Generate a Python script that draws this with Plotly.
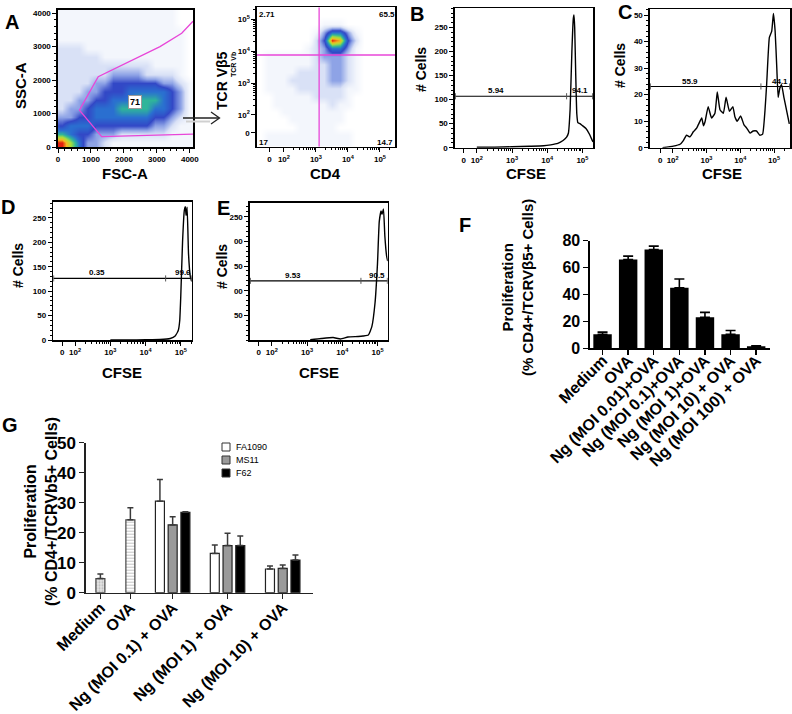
import math
import plotly.graph_objects as go

W, H = 792, 714
FONT = "Liberation Sans"
MAGENTA = "#e846d8"

# ---------------- DATA ----------------
# Panel A (left): FSC-A vs SSC-A dot density levels (0 empty .. 9 densest), rows top -> bottom,
# 16 bins of 256 channels on each axis
A1_DENSITY = [
    "1111111111111100",
    "1111111111111100",
    "1111111111111110",
    "1111111111111110",
    "2221111111111110",
    "2222211111111110",
    "2222222222211110",
    "2222223333222210",
    "2222334444443321",
    "2223344455555431",
    "2233445556665431",
    "2334555666655431",
    "3344555555544321",
    "4555444444433211",
    "6544333222222111",
    "9753321111111111",
]
A1_GATE_X = [4096, 3753, 3095, 1220, 650, 1325, 4096]
A1_GATE_Y = [3760, 3400, 3000, 2100, 1100, 308, 385]
A1_GATE_PCT = "71"

# Panel A (right): CD4 vs TCR Vb5 density levels (log decades), rows top -> bottom
A2_DENSITY = [
    "000000000000000000",
    "000000000000000000",
    "000000001110000000",
    "000000013553100000",
    "000000024984200000",
    "000000123553100000",
    "011111123332100000",
    "011111122332100000",
    "011112222332100000",
    "011122222332100000",
    "011112222221100000",
    "001111122221000000",
    "001111111211000000",
    "000111111110000000",
    "000011111110000000",
    "000001111100000000",
    "011111111111000000",
    "011111111111000000",
]
A2_GATE_CD4 = 3.1     # log10 position of the vertical gate
A2_GATE_TCR = 3.88    # log10 position of the horizontal gate
A2_QUADS = ["2.71", "65.5", "17", "14.7"]   # UL, UR, LL, LR

# CFSE histograms: x in log10(CFSE), y = # cells
B_X = [2.0, 2.5, 3.0, 3.5, 3.9, 4.1, 4.3, 4.45, 4.55, 4.6, 4.65, 4.7, 4.74, 4.76, 4.78, 4.81,
       4.84, 4.87, 4.93, 5.0, 5.1, 5.2, 5.28, 5.30]
B_Y = [1, 1, 2, 3, 4, 6, 9, 15, 22, 30, 80, 200, 268, 276, 250, 150, 70, 52, 50, 46, 40, 28, 15, 12]
B_GATE = 107
B_SPLIT = 4.55
B_PCT = ["5.94", "94.1"]

C_X = [1.7, 2.02, 2.22, 2.31, 2.41, 2.51, 2.61, 2.71, 2.76, 2.86, 2.91, 2.96, 3.05, 3.15, 3.25,
       3.32, 3.40, 3.50, 3.58, 3.68, 3.78, 3.84, 3.91, 4.01, 4.11, 4.19, 4.29, 4.38, 4.48, 4.58,
       4.66, 4.73, 4.78, 4.86, 4.93, 4.98, 5.03, 5.08, 5.12, 5.17, 5.22, 5.29, 5.37, 5.45]
C_Y = [0, 0.6, 1.3, 2.6, 4.7, 4.1, 6, 7.4, 8.7, 11.2, 8.3, 9.9, 15.5, 11.2, 13, 21, 14.3, 13, 19,
       13.7, 15.5, 11.7, 10, 12, 8.6, 7.4, 5.5, 6.3, 6.3, 4.7, 5.1, 14, 24, 41.6, 44, 50.6, 44, 30,
       19, 22.5, 23.8, 19, 14, 9]
C_GATE = 23.1
C_SPLIT = 4.61
C_PCT = ["55.9", "44.1"]

D_X = [3.0, 3.5, 4.0, 4.41, 4.70, 4.84, 4.93, 4.97, 5.0, 5.05, 5.1, 5.13, 5.15, 5.18, 5.22, 5.27, 5.31]
D_Y = [0, 0, 0.5, 1, 3, 8, 20, 40, 90, 200, 265, 273, 255, 272, 176, 130, 120]
D_GATE = 126
D_SPLIT = 4.57
D_PCT = ["0.35", "99.6"]

E_X = [3.09, 3.4, 3.74, 3.95, 4.16, 4.45, 4.59, 4.74, 4.84, 4.93, 5.0, 5.05, 5.1, 5.13, 5.17,
       5.21, 5.26, 5.29]
E_Y = [0.5, 3, 5, 2, 6, 7, 8, 10, 27, 75, 155, 240, 262, 255, 266, 210, 170, 160]
E_GATE = 120
E_SPLIT = 4.53
E_PCT = ["9.53", "90.5"]

FLOW_TICKS = ["0", "10<sup>2</sup>", "10<sup>3</sup>", "10<sup>4</sup>", "10<sup>5</sup>"]

# Panel F
F_CATS = ["Medium", "OVA", "Ng (MOI 0.01)+OVA", "Ng (MOI 0.1)+OVA", "Ng (MOI 1)+OVA",
          "Ng (MOI 10) + OVA", "Ng (MOI 100) + OVA"]
F_VALS = [10.5, 66, 73.5, 45, 23, 10.5, 1.5]
F_ERR = [1.5, 2.5, 2.5, 6.5, 3.7, 2.7, 0.4]

# Panel G
G_CATS = ["Medium", "OVA", "Ng (MOI 0.1) + OVA", "Ng (MOI 1) + OVA", "Ng (MOI 10) + OVA"]
G_MEDIUM = [4.7]
G_MEDIUM_ERR = [1.5]
G_OVA = [24.3]
G_OVA_ERR = [4.0]
G_STRAINS = ["FA1090", "MS11", "F62"]
G_FA1090 = [30.5, 13.1, 7.9]
G_FA1090_ERR = [7.2, 2.8, 1.0]
G_MS11 = [22.6, 15.7, 8.1]
G_MS11_ERR = [2.7, 4.1, 1.1]
G_F62 = [26.8, 15.7, 10.9]
G_F62_ERR = [0.2, 3.2, 1.7]

# ---------------- LAYOUT HELPERS ----------------
def px(x):
    return x / W


def py(y):
    return 1 - y / H


def dom_x(a, b):
    return [a / W, b / W]


def dom_y(top, bot):
    return [1 - bot / H, 1 - top / H]


def levels(rows):
    return [[int(c) for c in r] for r in rows[::-1]]


CSCALE = [
    [0.0, "#ffffff"], [1 / 9, "#f3f6fc"], [2 / 9, "#d9e1f6"], [3 / 9, "#8ea3e6"],
    [4 / 9, "#3248c6"], [5 / 9, "#2a6fd0"], [6 / 9, "#2fb59a"], [7 / 9, "#a6df3c"],
    [8 / 9, "#f5b820"], [1.0, "#e2200e"],
]

fig = go.Figure()

# Panel A scatter densities
fig.add_trace(go.Heatmap(z=levels(A1_DENSITY), x0=128, dx=256, y0=128, dy=256, zmin=0, zmax=9,
                         colorscale=CSCALE, zsmooth="best", showscale=False, hoverinfo="skip",
                         xaxis="x", yaxis="y"))
fig.add_trace(go.Scatter(x=A1_GATE_X, y=A1_GATE_Y, mode="lines", line=dict(color=MAGENTA, width=1.3),
                         xaxis="x", yaxis="y", showlegend=False, hoverinfo="skip"))
fig.add_trace(go.Heatmap(z=levels(A2_DENSITY), x0=1.25, dx=0.25, y0=1.1, dy=0.25, zmin=0, zmax=9,
                         colorscale=CSCALE, zsmooth="best", showscale=False, hoverinfo="skip",
                         xaxis="x2", yaxis="y2"))

# Histograms
for xs, ys, ax in [(B_X, B_Y, "3"), (C_X, C_Y, "4"), (D_X, D_Y, "5"), (E_X, E_Y, "6")]:
    fig.add_trace(go.Scatter(x=xs, y=ys, mode="lines", line=dict(color="black", width=1.4,
                                                                  shape="spline", smoothing=0.4),
                             xaxis="x" + ax, yaxis="y" + ax, showlegend=False, hoverinfo="skip"))

# Panel F bars
fig.add_trace(go.Bar(x=F_CATS, y=F_VALS, width=0.72,
                     marker=dict(color="black", line=dict(width=0)),
                     error_y=dict(type="data", array=F_ERR, arrayminus=[0] * len(F_ERR),
                                  symmetric=False, color="black", thickness=1.6, width=5),
                     xaxis="x7", yaxis="y7", showlegend=False))

# Panel G bars
G_POS = [0, 1.0, 2.41, 4.24, 6.08]
G_W = 0.3
G_OFF = 0.425
err_style = dict(color="#3a3a3a", thickness=1.5, width=3)
fig.add_trace(go.Bar(x=G_POS[:1], y=G_MEDIUM, width=G_W,
                     marker=dict(color="#dcdcdc", line=dict(color="#444", width=1.2),
                                 pattern=dict(shape=".", fgcolor="#8a8a8a", bgcolor="#e6e6e6",
                                              size=3, solidity=0.4)),
                     error_y=dict(type="data", array=G_MEDIUM_ERR, arrayminus=[0], symmetric=False,
                                  **err_style),
                     xaxis="x8", yaxis="y8", showlegend=False))
fig.add_trace(go.Bar(x=G_POS[1:2], y=G_OVA, width=G_W,
                     marker=dict(color="white", line=dict(color="#444", width=1.2),
                                 pattern=dict(shape="-", fgcolor="#8a8a8a", bgcolor="white",
                                              size=3, solidity=0.35)),
                     error_y=dict(type="data", array=G_OVA_ERR, arrayminus=[0], symmetric=False,
                                  **err_style),
                     xaxis="x8", yaxis="y8", showlegend=False))
for vals, errs, off, col in [(G_FA1090, G_FA1090_ERR, -G_OFF, "white"),
                             (G_MS11, G_MS11_ERR, 0.0, "#9a9a9a"),
                             (G_F62, G_F62_ERR, G_OFF, "black")]:
    fig.add_trace(go.Bar(x=[p + off for p in G_POS[2:]], y=vals, width=G_W,
                         marker=dict(color=col, line=dict(color="#222", width=1.2)),
                         error_y=dict(type="data", array=errs, arrayminus=[0] * len(errs),
                                      symmetric=False, **err_style),
                         xaxis="x8", yaxis="y8", showlegend=False))

# ---------------- AXES ----------------
TF = dict(family=FONT, size=8, color="black", weight="bold")


def flow_axis(dom, rng, anchor, **kw):
    d = dict(domain=dom, range=rng, anchor=anchor, showline=True, linecolor="black", linewidth=1.6,
             mirror=True, ticks="outside", ticklen=4, tickwidth=1, tickcolor="black",
             showgrid=False, zeroline=False, tickfont=TF, fixedrange=True, automargin=False,
             tickangle=0)
    d.update(kw)
    return d


def log_minor(lo, hi):
    vals = []
    for d in range(2, 6):
        for k in range(2, 10):
            v = d + math.log10(k)
            if lo < v < hi:
                vals.append(v)
    return dict(tickvals=vals, ticklen=2, ticks="outside", tickcolor="black")


FLOW_POS = [1.63, 2, 3, 4, 5]

lay = dict(
    width=W, height=H, margin=dict(l=0, r=0, t=0, b=0, pad=0, autoexpand=False),
    paper_bgcolor="white", plot_bgcolor="rgba(0,0,0,0)", showlegend=False, barmode="overlay",
    font=dict(family=FONT, color="black"),
)
lay["xaxis"] = flow_axis(dom_x(58, 193), [0, 4096], "y", tickvals=[0, 1000, 2000, 3000, 4000],
                         minor=dict(dtick=200, ticklen=2, ticks="outside", tickcolor="black"))
lay["yaxis"] = flow_axis(dom_y(10, 147), [0, 4096], "x", tickvals=[0, 1000, 2000, 3000, 4000],
                         minor=dict(dtick=200, ticklen=2, ticks="outside", tickcolor="black"))
lay["xaxis2"] = flow_axis(dom_x(257, 395), [1.16, 5.47], "y2", tickvals=[1.55, 2, 3, 4, 5],
                          ticktext=FLOW_TICKS, minor=log_minor(1.16, 5.47))
lay["yaxis2"] = flow_axis(dom_y(7.3, 146.7), [1.006, 5.376], "x2", tickvals=[1.445, 2, 3, 4, 5],
                          ticktext=FLOW_TICKS, minor=log_minor(1.006, 5.376))
lay["xaxis3"] = flow_axis(dom_x(455, 593), [1.38, 5.30], "y3", tickvals=FLOW_POS,
                          ticktext=FLOW_TICKS, minor=log_minor(1.38, 5.30))
lay["yaxis3"] = flow_axis(dom_y(8.3, 147.7), [0, 290], "x3", tickvals=[0, 50, 100, 150, 200, 250],
                          minor=dict(dtick=10, ticklen=2, ticks="outside", tickcolor="black"))
lay["xaxis4"] = flow_axis(dom_x(650, 790), [1.33, 5.47], "y4", tickvals=FLOW_POS,
                          ticktext=FLOW_TICKS, minor=log_minor(1.33, 5.47))
lay["yaxis4"] = flow_axis(dom_y(9.3, 147.7), [0, 52.2], "x4", tickvals=[0, 10, 20, 30, 40, 50],
                          minor=dict(dtick=2, ticklen=2, ticks="outside", tickcolor="black"))
lay["xaxis5"] = flow_axis(dom_x(53.3, 191.7), [1.38, 5.31], "y5", tickvals=FLOW_POS,
                          ticktext=FLOW_TICKS, minor=log_minor(1.38, 5.31))
lay["yaxis5"] = flow_axis(dom_y(201.7, 340), [0, 283], "x5", tickvals=[0, 50, 100, 150, 200, 250],
                          minor=dict(dtick=10, ticklen=2, ticks="outside", tickcolor="black"))
lay["xaxis6"] = flow_axis(dom_x(250, 387.7), [1.38, 5.29], "y6", tickvals=FLOW_POS,
                          ticktext=FLOW_TICKS, minor=log_minor(1.38, 5.29))
lay["yaxis6"] = flow_axis(dom_y(202.7, 340), [0, 278.5], "x6", tickvals=[50, 100, 150, 200, 250],
                          ticktext=["50", "00", "50", "00", "250"],
                          minor=dict(dtick=10, ticklen=2, ticks="outside", tickcolor="black"))

BIG_TF = dict(family=FONT, size=16, color="black", weight="bold")
lay["xaxis7"] = dict(domain=dom_x(590, 770), range=[-0.49, 6.54], anchor="y7", type="category",
                     showline=True, linecolor="black", linewidth=1.6, ticks="outside", ticklen=5,
                     tickwidth=1.4, tickcolor="black", tickangle=-45, showgrid=False,
                     tickfont=BIG_TF, fixedrange=True, automargin=False, ticklabelstandoff=-10)
lay["yaxis7"] = dict(domain=dom_y(240.7, 348.3), range=[0, 80], anchor="x7", showline=True,
                     linecolor="black", linewidth=1.6, ticks="outside", ticklen=5, tickwidth=1.4,
                     tickcolor="black", tickvals=[0, 20, 40, 60, 80], showgrid=False,
                     zeroline=False, tickfont=BIG_TF, fixedrange=True, automargin=False)
lay["xaxis8"] = dict(domain=dom_x(86, 312.7), range=[-0.48, 7.08], anchor="y8", showline=True,
                     linecolor="#222", linewidth=1.6, ticks="outside", ticklen=5, tickwidth=1.4,
                     tickcolor="#222", tickvals=G_POS, ticktext=G_CATS, tickangle=-45,
                     showgrid=False, zeroline=False, tickfont=BIG_TF, fixedrange=True,
                     automargin=False, ticklabelstandoff=-7)
lay["yaxis8"] = dict(domain=dom_y(442.7, 592.7), range=[0, 50], anchor="x8", showline=True,
                     linecolor="#222", linewidth=1.6, ticks="outside", ticklen=5, tickwidth=1.4,
                     tickcolor="#222", tickvals=[0, 10, 20, 30, 40, 50], showgrid=False,
                     zeroline=False, tickfont=dict(family=FONT, size=17, color="black", weight="bold"),
                     fixedrange=True, automargin=False)
fig.update_layout(**lay)

# ---------------- SHAPES ----------------
shapes = []
# Panel A gates on the CD4/TCR plot
shapes.append(dict(type="line", xref="x2", yref="y2", x0=A2_GATE_CD4, x1=A2_GATE_CD4, y0=1.006,
                   y1=5.376, line=dict(color=MAGENTA, width=1.3)))
shapes.append(dict(type="line", xref="x2", yref="y2", x0=1.16, x1=5.47, y0=A2_GATE_TCR,
                   y1=A2_GATE_TCR, line=dict(color=MAGENTA, width=1.3)))

# Histogram gate bars
for ax, rng, gate, split, ymax in [("3", [1.38, 5.30], B_GATE, B_SPLIT, 290),
                                   ("4", [1.33, 5.47], C_GATE, C_SPLIT, 52.2),
                                   ("5", [1.38, 5.31], D_GATE, D_SPLIT, 283),
                                   ("6", [1.38, 5.29], E_GATE, E_SPLIT, 278.5)]:
    h = ymax * 0.022
    shapes.append(dict(type="line", xref="x" + ax, yref="y" + ax, x0=rng[0], x1=rng[1], y0=gate,
                       y1=gate, line=dict(color="black", width=1.1)))
    for xv in [rng[0] + 0.01, split, rng[1] - 0.01]:
        shapes.append(dict(type="line", xref="x" + ax, yref="y" + ax, x0=xv, x1=xv, y0=gate - h,
                           y1=gate + h, line=dict(color="#555", width=1)))

# Arrow between the two panel-A plots
shapes.append(dict(type="line", xref="paper", yref="paper", x0=px(186), x1=px(210), y0=py(121.5),
                   y1=py(121.5), line=dict(color="#d0d0d0", width=2)))
shapes.append(dict(type="line", xref="paper", yref="paper", x0=px(183), x1=px(219), y0=py(118),
                   y1=py(118), line=dict(color="#222", width=1.3)))
shapes.append(dict(type="path", xref="paper", yref="paper",
                   path=f"M {px(211)} {py(112)} L {px(219.5)} {py(118)} L {px(211)} {py(124)}",
                   line=dict(color="#222", width=1.3)))

# Legend for panel G (boxes)
LEG_Y = [447, 460, 473]
LEG_COL = ["white", "#9a9a9a", "black"]
for yy, col in zip(LEG_Y, LEG_COL):
    shapes.append(dict(type="rect", xref="paper", yref="paper", x0=px(222), x1=px(230),
                       y0=py(yy + 4), y1=py(yy - 4), fillcolor=col, line=dict(color="#333", width=1)))

fig.update_layout(shapes=shapes)

# ---------------- ANNOTATIONS ----------------
ann = []


def text(x, y, s, size, bold=True, angle=0, color="black", **kw):
    d = dict(x=px(x), y=py(y), xref="paper", yref="paper", text=("<b>%s</b>" % s) if bold else s,
             showarrow=False, textangle=angle, xanchor="center", yanchor="middle",
             font=dict(family=FONT, size=size, color=color))
    d.update(kw)
    ann.append(d)


# panel letters
for s, x, y in [("A", 12, 22), ("B", 417, 14), ("C", 625, 12), ("D", 8, 207), ("E", 223, 208),
                ("F", 465, 225), ("G", 10, 425)]:
    text(x, y, s, 20)

# axis titles
text(20, 86, "SSC-A", 15, angle=-90)
text(125, 173, "FSC-A", 15)
text(222, 80, "TCR Vβ5", 14, angle=-90)
text(233, 64, "TCR Vb", 7, angle=-90)
text(325, 173, "CD4", 15)
text(421, 70, "# Cells", 14, angle=-90)
text(526, 173, "CFSE", 15)
text(620, 66, "# Cells", 14, angle=-90)
text(722, 173, "CFSE", 15)
text(18, 266, "# Cells", 14, angle=-90)
text(122, 372, "CFSE", 15)
text(222, 266, "# Cells", 14, angle=-90)
text(319, 372, "CFSE", 15)

# gate percentages
ann.append(dict(x=2336, y=1345, xref="x", yref="y", text="<b>%s</b>" % A1_GATE_PCT, showarrow=False,
                bgcolor="white", bordercolor="#999", borderwidth=1, borderpad=1,
                font=dict(family=FONT, size=9, color="black")))
for s, x, y in zip(A2_QUADS, [267, 387, 263, 385], [14, 14, 143, 143]):
    text(x, y, s, 8)
for pcts, xs, y in [(B_PCT, [496, 580], 90.7), (C_PCT, [690, 780], 81),
                    (D_PCT, [97, 183], 272.7), (E_PCT, [293, 377], 275)]:
    text(xs[0], y, pcts[0], 8)
    text(xs[1], y, pcts[1], 8)

# F / G y-axis titles
text(517, 288, "Proliferation<br>(% CD4+/TCRVβ5+ Cells)", 15, angle=-90)
text(41, 512, "Proliferation<br>(% CD4+/TCRVb5+ Cells)", 16, angle=-90)

# G legend labels
for yy, s in zip(LEG_Y, G_STRAINS):
    text(234, yy, s, 9, bold=False, xanchor="left")

fig.update_layout(annotations=ann)
fig.write_html("out.html", config={"displayModeBar": False, "staticPlot": True},
               post_script="document.body.style.margin='0px';document.body.style.padding='0px';")
